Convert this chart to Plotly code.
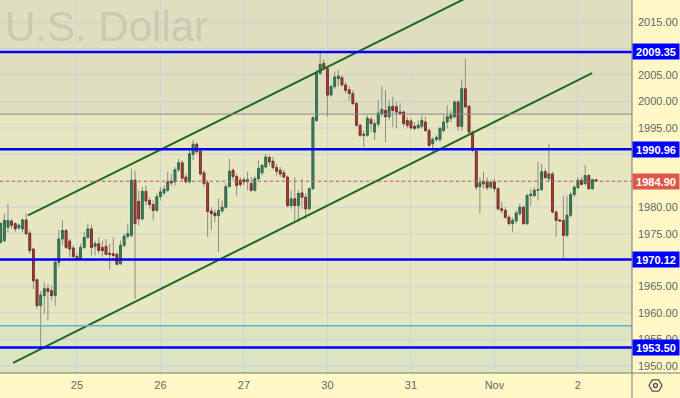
import plotly.graph_objects as go

# ---------------- data (hourly candles, Oct 24 - Nov 2) ----------------
open_ = [1973.4,1973.7,1976.2,1977.4,1976.9,1976.1,1975.9,1977.6,1975.1,1972.1,
         1966.3,1961.4,1963.3,1964.6,1964.2,1963.3,1969.6,1974.0,1975.6,1973.6,
         1972.3,1970.7,1970.2,1972.4,1974.3,1975.9,1972.6,1973.1,1972.4,1972.6,
         1971.3,1971.2,1971.1,1969.3,1972.8,1974.5,1974.7,1985.1,1981.1,1977.8,
         1983.0,1981.3,1980.5,1979.4,1982.0,1982.7,1983.2,1984.9,1984.8,1987.1,
         1988.4,1985.7,1984.8,1990.0,1991.9,1990.6,1986.5,1984.6,1979.3,1978.9,
         1978.4,1979.3,1980.0,1983.9,1987.0,1985.8,1985.1,1985.2,1984.8,1984.5,
         1983.2,1985.4,1986.5,1987.6,1989.4,1988.7,1987.5,1987.0,1986.5,1985.7,
         1980.3,1981.6,1980.3,1982.7,1981.9,1979.7,1983.5,1996.4,2005.3,2007.2,
         2006.2,2001.2,2002.8,2004.3,2004.5,2003.1,2002.2,2001.5,1999.6,1995.5,
         1993.8,1993.6,1996.6,1994.2,1995.7,1997.7,1998.3,1997.1,1999.1,1999.0,
         1998.0,1998.0,1996.4,1996.3,1995.3,1995.0,1995.3,1996.1,1994.5,1992.0,
         1992.8,1992.8,1994.5,1996.1,1996.8,1997.1,1999.9,1995.3,2002.4,1999.1,
         1994.2,1990.6,1983.9,1984.4,1984.8,1983.8,1984.8,1983.5,1979.7,1979.4,
         1978.1,1976.9,1977.4,1978.8,1980.0,1976.9,1982.2,1982.2,1983.2,1983.3,
         1986.7,1985.4,1986.3,1979.1,1977.6,1977.5,1974.7,1978.5,1982.4,1983.7,
         1985.1,1984.5,1986.0,1983.5,1985.2]
high = [1977.2,1978.8,1980.7,1977.8,1977.2,1976.9,1977.8,1978.9,1975.6,1972.4,
        1966.5,1964.2,1965.8,1965.5,1965.2,1970.2,1975.7,1977.5,1975.9,1974.0,
        1972.8,1971.2,1973.1,1975.3,1976.9,1976.7,1973.7,1974.3,1973.7,1974.0,
        1973.1,1974.3,1971.5,1973.7,1975.0,1976.9,1987.3,1986.9,1983.2,1983.8,
        1984.1,1981.9,1981.3,1982.6,1983.8,1984.1,1986.7,1986.3,1987.6,1989.2,
        1988.9,1986.3,1990.8,1992.7,1992.3,1991.1,1987.0,1985.1,1980.0,1979.6,
        1981.6,1981.3,1984.5,1989.2,1987.3,1986.3,1985.7,1985.7,1986.7,1985.7,
        1986.0,1988.9,1988.2,1990.1,1989.8,1989.5,1988.2,1987.6,1987.1,1986.0,
        1983.2,1985.7,1983.2,1985.4,1982.6,1983.8,1997.2,2005.9,2009.6,2008.0,
        2006.5,2003.1,2005.6,2005.9,2005.0,2003.7,2002.8,2002.1,1999.9,1995.8,
        1994.5,1997.4,1997.1,1996.4,2000.2,2002.8,2002.1,2000.2,2000.9,1999.9,
        1999.6,1998.3,1997.1,1996.8,1996.1,1996.4,1997.4,1997.1,1994.9,1993.3,
        1993.6,1995.2,1997.4,1999.3,1998.3,2000.2,2000.2,2004.1,2008.1,1999.3,
        1994.5,1990.8,1985.7,1986.7,1985.7,1985.1,1985.4,1983.8,1981.0,1980.0,
        1978.5,1978.1,1979.4,1980.7,1980.3,1982.6,1983.5,1983.8,1988.6,1988.2,
        1987.3,1992.0,1986.7,1979.4,1977.8,1982.2,1982.2,1982.9,1984.1,1985.7,
        1985.7,1988.0,1986.3,1985.4,1985.3]
low = [1973.1,1973.4,1975.3,1975.9,1975.3,1975.7,1975.3,1974.7,1971.2,1964.6,
       1960.8,1953.2,1959.8,1958.6,1962.4,1961.4,1968.7,1972.8,1972.1,1970.6,
       1970.2,1969.9,1969.9,1972.1,1974.0,1970.9,1970.9,1971.2,1970.6,1970.9,
       1968.2,1969.9,1969.1,1969.2,1972.4,1974.0,1974.3,1962.7,1976.6,1977.5,
       1980.3,1979.7,1977.5,1979.1,1981.3,1982.2,1982.9,1984.1,1984.1,1986.7,
       1985.1,1984.5,1984.5,1988.9,1990.1,1986.0,1983.8,1974.4,1975.6,1977.2,
       1971.5,1978.8,1979.7,1983.8,1985.1,1982.2,1983.8,1984.1,1983.2,1982.9,
       1982.9,1985.1,1986.0,1987.3,1987.9,1987.1,1986.0,1985.7,1985.4,1980.0,
       1979.7,1976.9,1977.2,1979.7,1977.8,1979.4,1983.3,1996.1,2005.0,2005.9,
       1997.1,2000.9,2002.4,2002.8,2002.8,2001.5,2000.2,1999.3,1995.2,1993.3,
       1991.4,1993.3,1994.2,1992.7,1995.2,1997.1,1992.3,1996.4,1995.2,1994.9,
       1997.4,1995.2,1994.9,1994.7,1994.5,1994.9,1994.9,1994.2,1991.4,1990.4,
       1992.3,1992.3,1994.2,1994.9,1996.1,1996.8,1994.5,1994.5,1998.7,1993.9,
       1990.4,1983.2,1978.8,1983.5,1983.2,1983.4,1982.9,1979.4,1978.8,1977.8,
       1976.6,1975.3,1976.9,1978.4,1976.7,1976.6,1980.3,1981.9,1981.3,1983.2,
       1985.4,1984.8,1978.8,1974.4,1977.2,1969.9,1974.4,1978.1,1981.9,1983.5,
       1984.3,1984.1,1983.3,1983.3,1984.8]
close = [1976.9,1977.5,1977.5,1976.6,1975.9,1976.6,1977.6,1975.0,1971.8,1966.1,
         1961.4,1963.4,1964.6,1964.1,1963.3,1969.6,1974.0,1975.6,1972.4,1972.1,
         1970.7,1970.1,1972.4,1974.3,1975.9,1972.4,1973.1,1971.8,1971.8,1971.1,
         1971.1,1970.9,1969.2,1972.8,1974.5,1975.0,1985.1,1976.9,1977.8,1983.0,
         1981.2,1980.5,1979.4,1982.0,1982.9,1983.4,1984.8,1984.6,1987.1,1988.4,
         1985.5,1984.8,1990.1,1991.9,1990.5,1986.3,1984.5,1979.2,1978.8,1978.4,
         1979.4,1980.0,1983.9,1986.8,1985.8,1984.1,1984.3,1984.8,1985.2,1983.2,
         1985.4,1987.3,1987.9,1989.5,1988.6,1987.5,1986.8,1986.3,1985.7,1980.3,
         1981.6,1980.3,1982.6,1981.9,1979.7,1983.5,1996.9,2005.3,2007.0,2006.2,
         2001.2,2002.8,2004.6,2004.8,2003.1,2002.1,2001.5,1999.6,1995.5,1993.6,
         1993.6,1996.8,1995.8,1995.8,1997.8,1998.5,1997.1,1999.0,1998.3,1998.0,
         1997.7,1995.8,1995.5,1995.0,1994.9,1995.5,1996.4,1994.5,1991.7,1992.8,
         1993.2,1994.9,1996.1,1997.1,1997.4,1999.9,1995.3,2002.4,1999.0,1994.2,
         1990.8,1983.8,1984.6,1984.8,1983.7,1984.7,1983.5,1979.7,1979.4,1978.1,
         1976.9,1977.5,1978.9,1980.0,1976.9,1982.2,1982.5,1983.2,1983.3,1986.7,
         1985.6,1986.3,1979.1,1977.5,1977.4,1974.7,1978.5,1982.4,1983.8,1985.1,
         1984.3,1986.0,1983.5,1985.2,1984.9]

day_start_index = [21, 44, 67, 90, 113, 136, 159]
day_labels = ["25", "26", "27", "30", "31", "Nov", "2"]

support_resistance = [2009.35, 1990.96, 1970.12, 1953.50]
gray_level = 1997.6
cyan_level = 1957.6

upper_channel_x = [7.5, 135.0]
upper_channel_y = [1978.45, 2021.85]
lower_channel_x = [3.4, 162.9]
lower_channel_y = [1950.6, 2005.34]

# grid every 5; labels hidden where a level tag covers them in the original
price_grid = [1950 + 5 * k for k in range(14)]
price_ticks = [1950, 1955, 1960, 1965, 1975, 1980, 1995, 2000, 2005, 2015]

# ---------------- figure ----------------
n = len(close)
xs = list(range(n))
last_price = close[-1]

W, H = 680, 398
ML, MR, MT, MB = 0, 48, 0, 25
PW, PH = W - ML - MR, H - MT - MB

GREEN_FILL, GREEN_LINE = "#3f845e", "#2f6a4a"
RED_FILL, RED_LINE = "#a6443c", "#7e2f2a"
WICK = "#8c8c88"
FONT = "Liberation Sans"
GRID = "#cdd5d6"

fig = go.Figure()

# wicks (full range) in gray
fig.add_trace(go.Candlestick(
    x=xs, open=open_, high=high, low=low, close=close,
    increasing=dict(line=dict(color=WICK, width=1), fillcolor=WICK),
    decreasing=dict(line=dict(color=WICK, width=1), fillcolor=WICK),
    hoverinfo="skip", showlegend=False))
# bodies on top
body_hi = [max(o, c) for o, c in zip(open_, close)]
body_lo = [min(o, c) for o, c in zip(open_, close)]
fig.add_trace(go.Candlestick(
    x=xs, open=open_, high=body_hi, low=body_lo, close=close,
    increasing=dict(line=dict(color=GREEN_LINE, width=1), fillcolor=GREEN_FILL),
    decreasing=dict(line=dict(color=RED_LINE, width=1), fillcolor=RED_FILL),
    hoverinfo="skip", showlegend=False))

# channel lines
for cx, cy in [(upper_channel_x, upper_channel_y), (lower_channel_x, lower_channel_y)]:
    fig.add_trace(go.Scatter(x=cx, y=cy, mode="lines",
                             line=dict(color="#1f6b1f", width=2),
                             hoverinfo="skip", showlegend=False))

shapes = []
# horizontal grid (every 5)
for g in price_grid:
    shapes.append(dict(type="line", xref="paper", yref="y", x0=0, x1=1,
                       y0=g, y1=g, line=dict(color=GRID, width=1), layer="below"))
# subtle zones
shapes.append(dict(type="rect", xref="paper", yref="y", x0=0, x1=1,
                   y0=gray_level, y1=2030, fillcolor="rgba(140,140,175,0.07)",
                   line=dict(width=0), layer="below"))
shapes.append(dict(type="rect", xref="paper", yref="y", x0=0, x1=1,
                   y0=1900, y1=cyan_level, fillcolor="rgba(120,205,215,0.08)",
                   line=dict(width=0), layer="below"))
# gray / cyan lines
shapes.append(dict(type="line", xref="paper", yref="y", x0=0, x1=1,
                   y0=gray_level, y1=gray_level, line=dict(color="#8a8a8a", width=1)))
shapes.append(dict(type="line", xref="paper", yref="y", x0=0, x1=1,
                   y0=cyan_level, y1=cyan_level, line=dict(color="#5cb6d0", width=1.5)))
# last price dotted line
shapes.append(dict(type="line", xref="paper", yref="y", x0=0, x1=1,
                   y0=last_price, y1=last_price,
                   line=dict(color="#d9564a", width=1, dash="dot")))
# blue levels
for v in support_resistance:
    shapes.append(dict(type="line", xref="paper", yref="y", x0=0, x1=1,
                       y0=v, y1=v, line=dict(color="#0000ff", width=2.5)))
# frame lines
shapes.append(dict(type="line", xref="paper", yref="paper", x0=0, x1=W / PW,
                   y0=0, y1=0, line=dict(color="#7a7a7a", width=1)))
shapes.append(dict(type="line", xref="paper", yref="paper", x0=1, x1=1,
                   y0=-MB / PH, y1=1, line=dict(color="#7a7a7a", width=1)))
# gear icon
cxp, cyp, r = 655.5, 385.5, 6.5
pts = [(cxp + r, cyp), (cxp + r / 2, cyp - r * 0.866), (cxp - r / 2, cyp - r * 0.866),
       (cxp - r, cyp), (cxp - r / 2, cyp + r * 0.866), (cxp + r / 2, cyp + r * 0.866)]
def px2paper(px, py):
    return px / PW, (PH - py) / PH
path = "M " + " L ".join("%.5f,%.5f" % px2paper(a, b) for a, b in pts) + " Z"
shapes.append(dict(type="path", xref="paper", yref="paper", path=path,
                   line=dict(color="#555555", width=1.3)))
x0p, y0p = px2paper(cxp - 2, cyp + 2)
x1p, y1p = px2paper(cxp + 2, cyp - 2)
shapes.append(dict(type="circle", xref="paper", yref="paper", x0=x0p, x1=x1p,
                   y0=y0p, y1=y1p, line=dict(color="#555555", width=1.3)))

annotations = []
annotations.append(dict(text="U.S. Dollar", xref="paper", yref="paper",
                        x=0.004, y=0.998, xanchor="left", yanchor="top",
                        showarrow=False,
                        font=dict(family=FONT, size=42, color="#cacab2")))
for v in support_resistance:
    annotations.append(dict(text="<b>%.2f</b>" % v, xref="paper", yref="y",
                            x=1, y=v, xanchor="left", yanchor="middle",
                            showarrow=False, bgcolor="#0000ff", borderpad=1,
                            width=44, height=13,
                            font=dict(family=FONT, size=11, color="white")))
annotations.append(dict(text="<b>%.2f</b>" % last_price, xref="paper", yref="y",
                        x=1, y=last_price, xanchor="left", yanchor="middle",
                        showarrow=False, bgcolor="#e0574a", borderpad=1,
                        width=44, height=13,
                        font=dict(family=FONT, size=11, color="white")))

fig.update_layout(
    width=W, height=H,
    margin=dict(l=ML, r=MR, t=MT, b=MB, pad=0, autoexpand=False),
    paper_bgcolor="#fdf8c6",
    plot_bgcolor="#e6e6c1",
    shapes=shapes, annotations=annotations,
    showlegend=False,
    xaxis=dict(range=[-0.2, 173.9], tickmode="array", tickvals=day_start_index,
               ticktext=day_labels, showgrid=True, gridcolor=GRID, gridwidth=1,
               zeroline=False, showline=False, ticks="", automargin=False,
               ticklabelstandoff=4,
               tickfont=dict(family=FONT, size=11, color="#666666"),
               rangeslider=dict(visible=False), fixedrange=True),
    yaxis=dict(range=[1948.67, 2019.17], side="right", tickmode="array",
               tickvals=price_ticks, ticktext=["%.2f" % t for t in price_ticks],
               showgrid=False, zeroline=False,
               showline=False, ticks="", ticklabelstandoff=5, automargin=False,
               tickfont=dict(family=FONT, size=11, color="#666666"),
               fixedrange=True),
)

fig.write_html("out.html", config={"displayModeBar": False},
               post_script="document.body.style.margin='0';document.body.style.overflow='hidden';")
